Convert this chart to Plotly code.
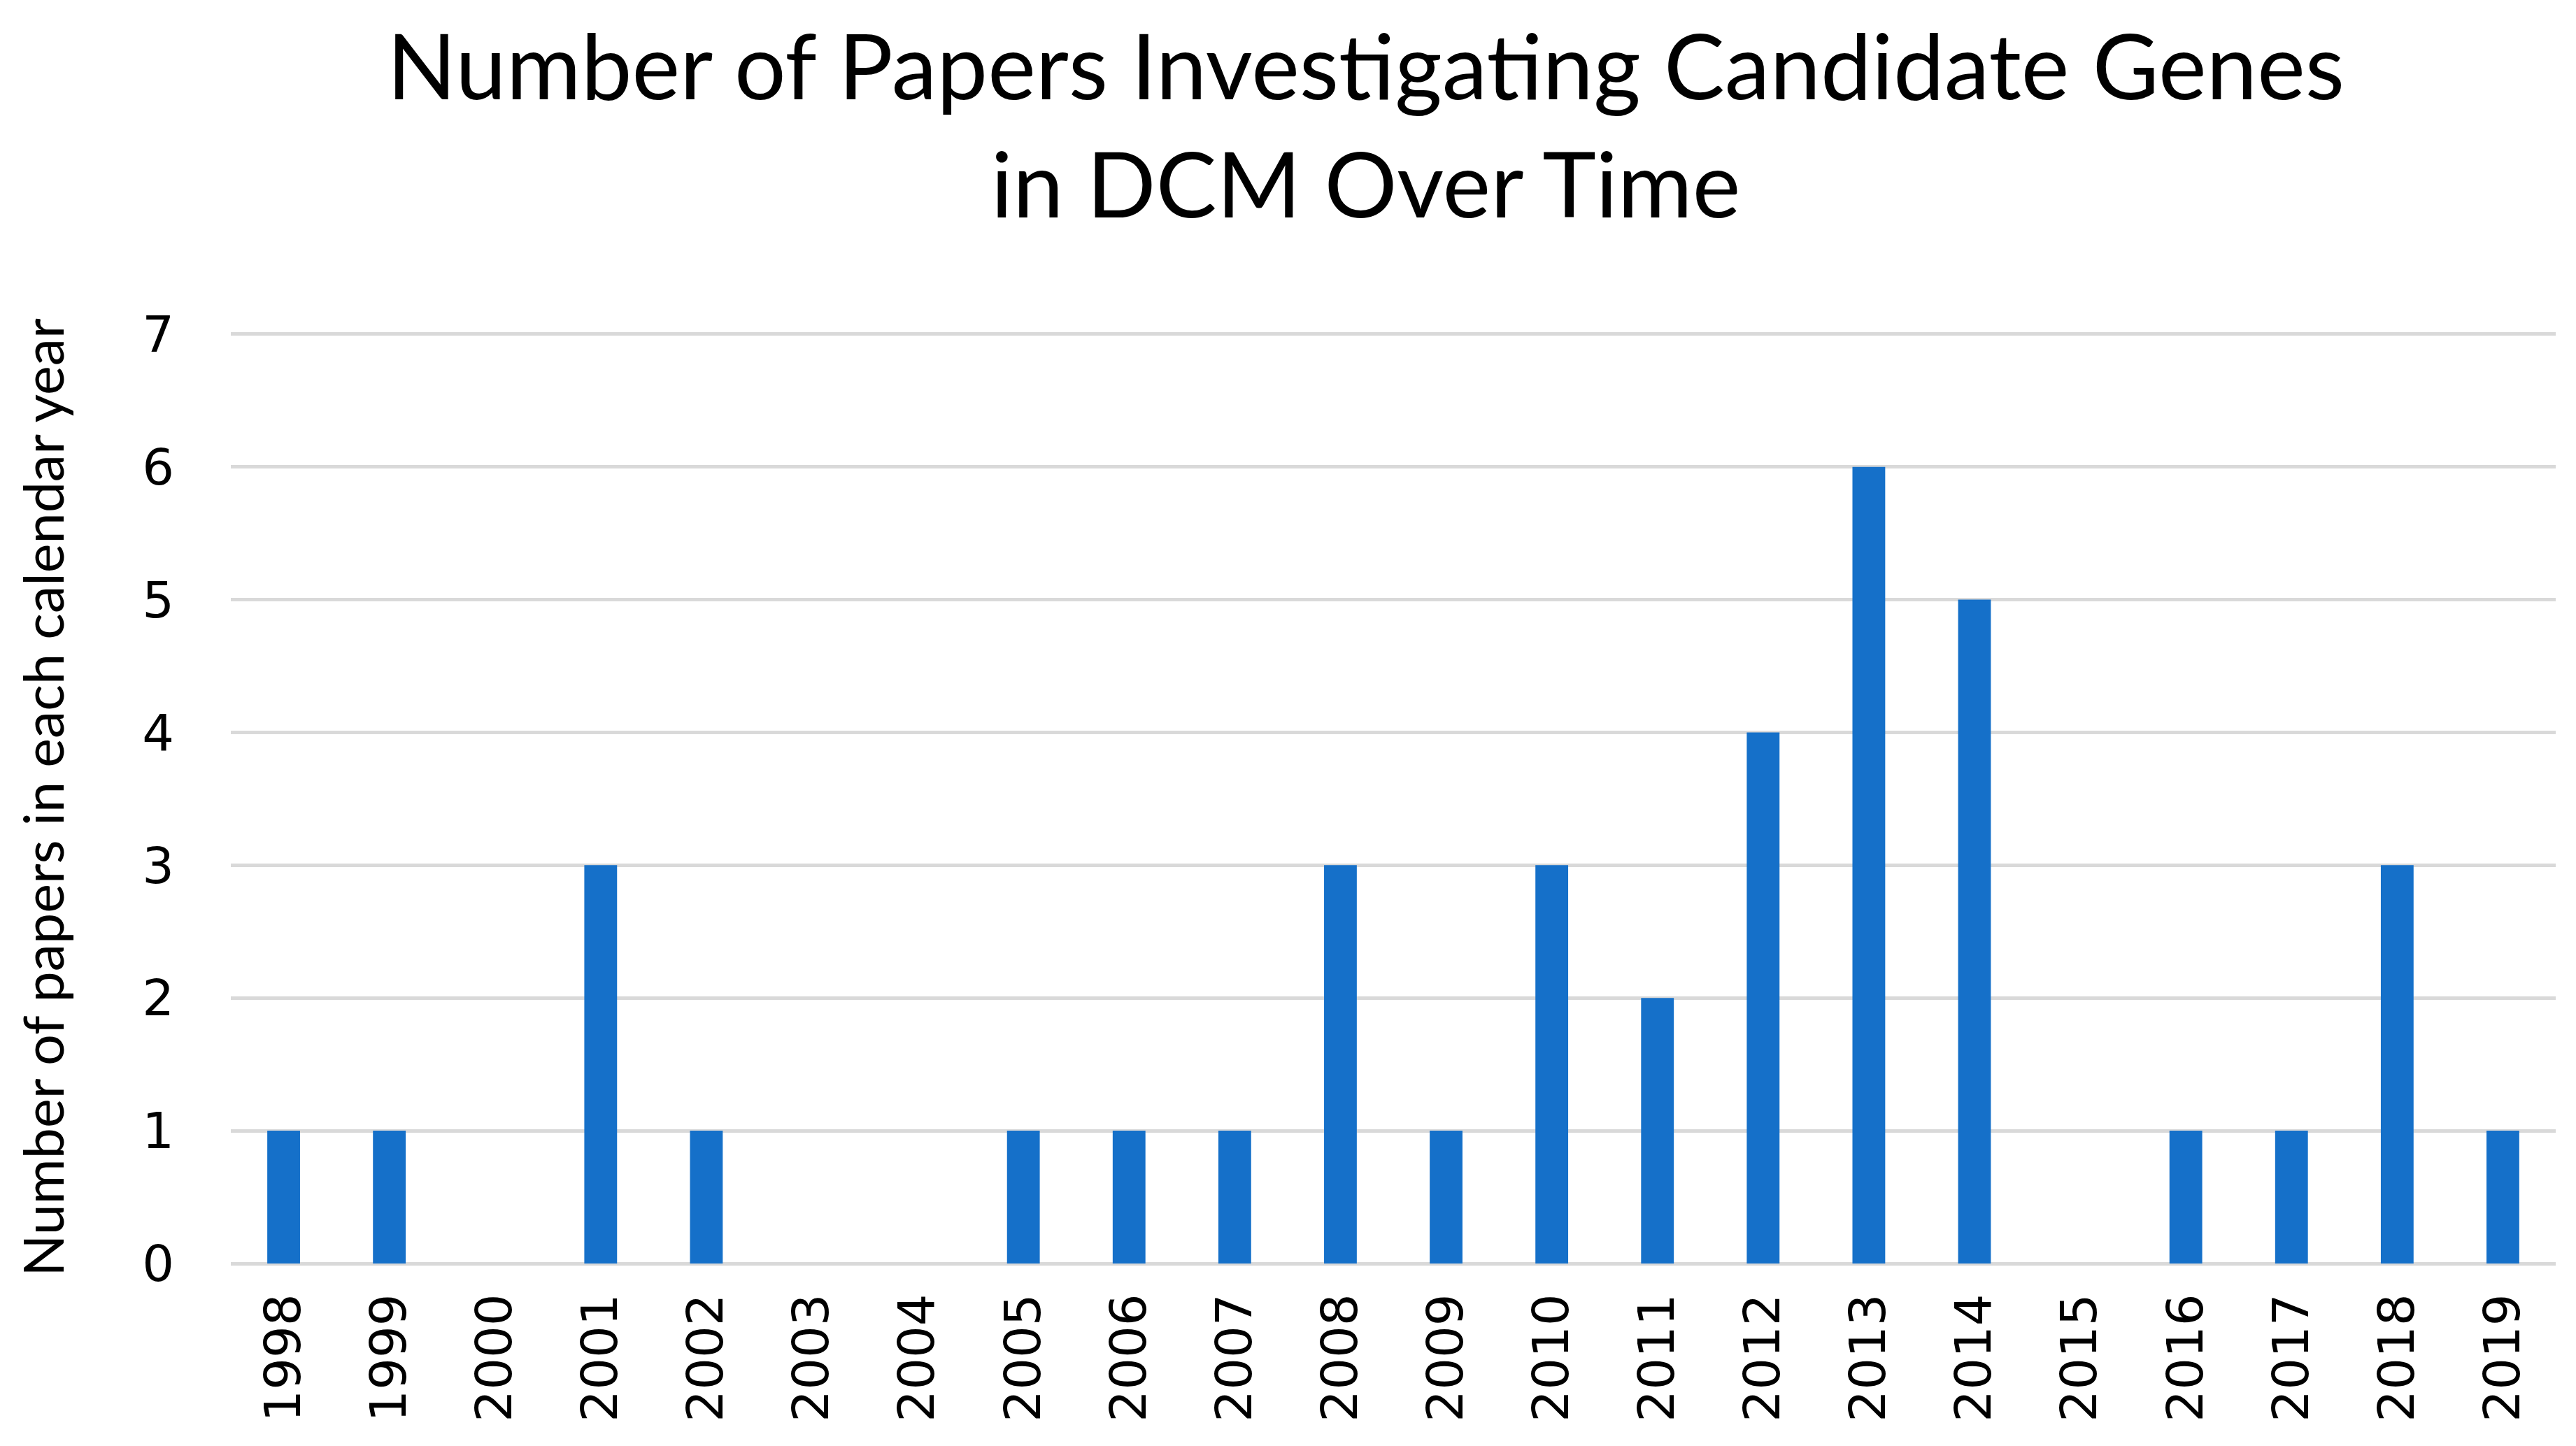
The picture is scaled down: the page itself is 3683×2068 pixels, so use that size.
import plotly.graph_objects as go

years = ["1998", "1999", "2000", "2001", "2002", "2003", "2004", "2005", "2006", "2007", "2008",
         "2009", "2010", "2011", "2012", "2013", "2014", "2015", "2016", "2017", "2018", "2019"]
papers = [1, 1, 0, 3, 1, 0, 0, 1, 1, 1, 3, 1, 3, 2, 4, 6, 5, 0, 1, 1, 3, 1]
y_ticks = [0, 1, 2, 3, 4, 5, 6, 7]

fig = go.Figure(go.Bar(x=years, y=papers, marker=dict(color="#1570C9", line=dict(width=0)),
                       width=0.31))

fig.update_layout(
    width=3683, height=2068,
    paper_bgcolor="white", plot_bgcolor="white",
    margin=dict(l=322, r=37, t=466, b=269),
    showlegend=False,
    title=dict(text="Number of Papers Investigating Candidate Genes<br>in DCM Over Time",
               x=0.528, xanchor="center", y=0.935, yanchor="top",
               font=dict(family="Lato", size=130, color="#000000")),
)
fig.update_xaxes(type="category", range=[-0.5, 21.5], tickangle=-90, showgrid=False,
                 showline=False, ticks="", ticklabelstandoff=28,
                 tickfont=dict(family="DejaVu Sans", size=72, color="#000000"))
fig.update_yaxes(range=[0, 7.02], tickvals=y_ticks, showgrid=True, gridcolor="#D9D9D9", gridwidth=5,
                 zeroline=True, zerolinecolor="#D9D9D9", zerolinewidth=5,
                 showline=False, ticks="", ticklabelstandoff=80,
                 tickfont=dict(family="DejaVu Sans", size=72, color="#000000"),
                 title=dict(text="Number of papers in each calendar year", standoff=85,
                            font=dict(family="Lato", size=79, color="#000000")))

fig.write_html("out.html")
